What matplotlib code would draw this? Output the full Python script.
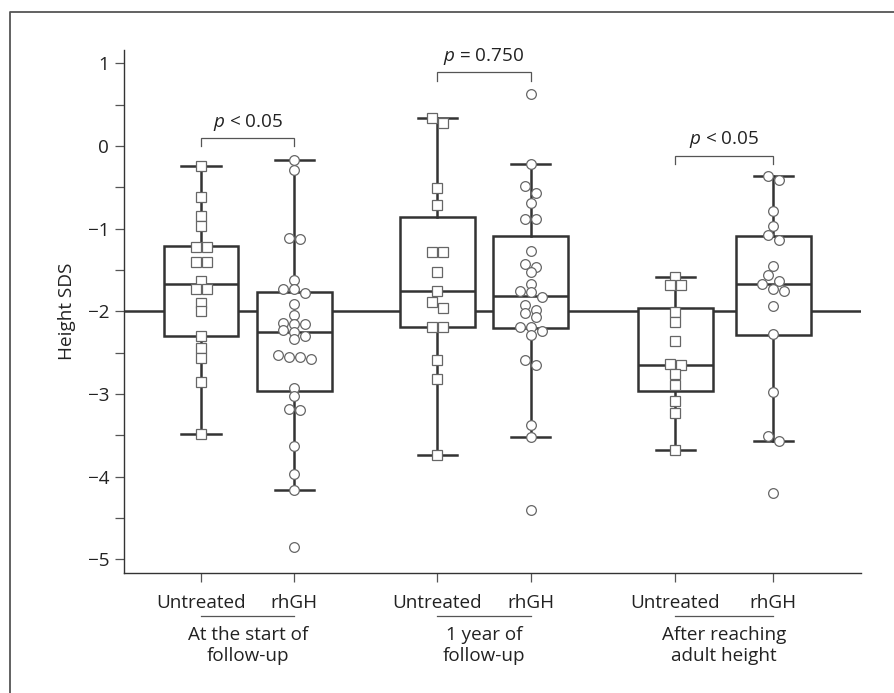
import matplotlib
matplotlib.use('Agg')
import matplotlib.pyplot as plt
import numpy as np
from matplotlib.lines import Line2D
from matplotlib.ticker import FixedLocator

plt.rcParams['font.family'] = ['Open Sans', 'DejaVu Sans']
plt.rcParams['mathtext.fontset'] = 'custom'
plt.rcParams['mathtext.it'] = 'Open Sans:italic'
plt.rcParams['mathtext.rm'] = 'Open Sans'
plt.rcParams['axes.unicode_minus'] = True

# ---------------- data ----------------
group_labels = ['At the start of\nfollow-up', '1 year of\nfollow-up', 'After reaching\nadult height']
treatment_labels = ['Untreated', 'rhGH']
y_label = 'Height SDS'
reference_sds = -2.0

start_untreated = [-0.24, -0.62, -0.85, -0.97, -1.22, -1.22, -1.40, -1.40, -1.63,
                   -1.73, -1.73, -1.90, -2.00, -2.30, -2.44, -2.57, -2.86, -3.48]
start_rhgh = [-0.175, -0.29, -1.11, -1.13, -1.62, -1.73, -1.73, -1.78, -1.91, -2.05,
              -2.14, -2.16, -2.16, -2.23, -2.25, -2.30, -2.34, -2.53, -2.55, -2.55,
              -2.58, -2.93, -3.03, -3.18, -3.20, -3.63, -3.97, -4.16, -4.85]
year1_untreated = [0.34, 0.28, -0.51, -0.72, -1.28, -1.28, -1.53, -1.75, -1.89,
                   -1.96, -2.19, -2.19, -2.59, -2.82, -3.74]
year1_rhgh = [0.63, -0.22, -0.49, -0.57, -0.69, -0.88, -0.88, -1.27, -1.43, -1.46,
              -1.52, -1.67, -1.76, -1.77, -1.83, -1.93, -1.98, -2.02, -2.07, -2.19,
              -2.19, -2.24, -2.29, -2.59, -2.65, -3.38, -3.52, -4.40]
adult_untreated = [-1.58, -1.685, -1.685, -2.01, -2.13, -2.36, -2.64, -2.65, -2.76,
                   -2.89, -3.09, -3.23, -3.68]
adult_rhgh = [-0.37, -0.41, -0.79, -0.97, -1.08, -1.14, -1.45, -1.56, -1.63, -1.665,
              -1.725, -1.75, -1.94, -2.28, -2.98, -3.51, -3.565, -4.20]

series = [start_untreated, start_rhgh, year1_untreated, year1_rhgh,
          adult_untreated, adult_rhgh]

# box summaries
whisker_high = [-0.24, -0.175, 0.34, -0.22, -1.58, -0.37]
quart3 = [-1.21, -1.77, -0.86, -1.09, -1.955, -1.085]
medians = [-1.67, -2.255, -1.755, -1.815, -2.65, -1.665]
quart1 = [-2.30, -2.965, -2.19, -2.20, -2.96, -2.29]
whisker_low = [-3.48, -4.16, -3.74, -3.52, -3.68, -3.565]

p_labels = ['$p$ < 0.05', '$p$ = 0.750', '$p$ < 0.05']
bracket_tops = [0.093, 0.891, -0.117]

# ---------------- layout ----------------
W, H = 895, 693
fig = plt.figure(figsize=(W / 100, H / 100), dpi=100)
ax_l, ax_r, ax_t, ax_b = 124.5, 861, 50, 573.3
ax = fig.add_axes([ax_l / W, 1 - ax_b / H, (ax_r - ax_l) / W, (ax_b - ax_t) / H])

positions = [0, 1, 2.53, 3.53, 5.08, 6.13]
dark = '#333333'
gray = '#555555'
fs = 13.6

ax.set_xlim(-0.82, 7.07)
ax.set_ylim(-5.17, 1.16)

ax.axhline(reference_sds, color=dark, lw=1.8, zorder=1)

stats = []
for i in range(6):
    stats.append(dict(med=medians[i], q1=quart1[i], q3=quart3[i],
                      whislo=whisker_low[i], whishi=whisker_high[i], fliers=[]))
ax.bxp(stats, positions=positions, widths=0.8, showfliers=False, patch_artist=True,
       boxprops=dict(facecolor='white', edgecolor=dark, linewidth=1.8),
       medianprops=dict(color=dark, linewidth=1.8),
       whiskerprops=dict(color=dark, linewidth=1.8),
       capprops=dict(color=dark, linewidth=1.8),
       capwidths=0.42, manage_ticks=False, zorder=2)


def row_offsets(values, spacing, tol):
    vals = np.asarray(values, dtype=float)
    order = np.argsort(-vals, kind='stable')
    offs = np.zeros(len(vals))
    rows, row = [], [order[0]]
    for idx in order[1:]:
        if vals[row[0]] - vals[idx] <= tol:
            row.append(idx)
        else:
            rows.append(row)
            row = [idx]
    rows.append(row)
    for r in rows:
        n = len(r)
        for k, idx in enumerate(r):
            offs[idx] = (k - (n - 1) / 2) * spacing
    return offs


for i, vals in enumerate(series):
    offs = row_offsets(vals, 0.118, 0.085)
    marker = 's' if i % 2 == 0 else 'o'
    ms = 6.5 if marker == 's' else 7.0
    ax.plot(np.array(offs) + positions[i], vals, linestyle='none', marker=marker,
            markersize=ms, markerfacecolor='white', markeredgecolor='#666666',
            markeredgewidth=0.9, zorder=3, clip_on=False)

# p-value brackets
drop = 0.1
for g in range(3):
    x0, x1 = positions[2 * g], positions[2 * g + 1]
    yt = bracket_tops[g]
    ax.plot([x0, x0, x1, x1], [yt - drop, yt, yt, yt - drop], color=gray, lw=0.9,
            zorder=4, solid_joinstyle='miter')
    ax.annotate(p_labels[g], xy=((x0 + x1) / 2, yt), xytext=(0, 8.4),
                textcoords='offset points', ha='center', va='baseline',
                fontsize=fs, color='#222222')

# axes styling
for s in ['top', 'right']:
    ax.spines[s].set_visible(False)
for s in ['left', 'bottom']:
    ax.spines[s].set_color(dark)
    ax.spines[s].set_linewidth(1.0)

ax.yaxis.set_major_locator(FixedLocator([1, 0, -1, -2, -3, -4, -5]))
ax.yaxis.set_minor_locator(FixedLocator([0.5, -0.5, -1.5, -2.5, -3.5, -4.5]))
ax.tick_params(axis='y', which='both', length=6.5, width=0.9, color=gray,
               labelsize=fs, labelcolor='#222222', pad=4.5)
ax.set_xticks(positions)
ax.set_xticklabels(treatment_labels * 3)
ax.tick_params(axis='x', length=6.5, width=0.9, color=gray, labelsize=fs,
               labelcolor='#222222', pad=8.5)

ax.set_ylabel(y_label, fontsize=fs, color='#222222')
ax.yaxis.set_label_coords(-0.066, 0.5)

# group underlines and labels
xt = ax.get_xaxis_transform()
ax_h = ax_b - ax_t
y_under = (ax_b - 616) / ax_h
y_glab = (ax_b - 645.5) / ax_h
for g in range(3):
    x0, x1 = positions[2 * g], positions[2 * g + 1]
    ax.plot([x0, x1], [y_under, y_under], transform=xt, color=gray, lw=0.9,
            clip_on=False)
    ax.text((x0 + x1) / 2, y_glab, group_labels[g], transform=xt, ha='center',
            va='center', fontsize=fs, color='#222222', linespacing=1.2)

# outer frame (left and top)
fig.add_artist(Line2D([10 / W, 10 / W, 1.0], [0.0, 1 - 11.7 / H, 1 - 11.7 / H],
                      transform=fig.transFigure, color=gray, lw=1.3))

fig.savefig('out.png', dpi=100)
